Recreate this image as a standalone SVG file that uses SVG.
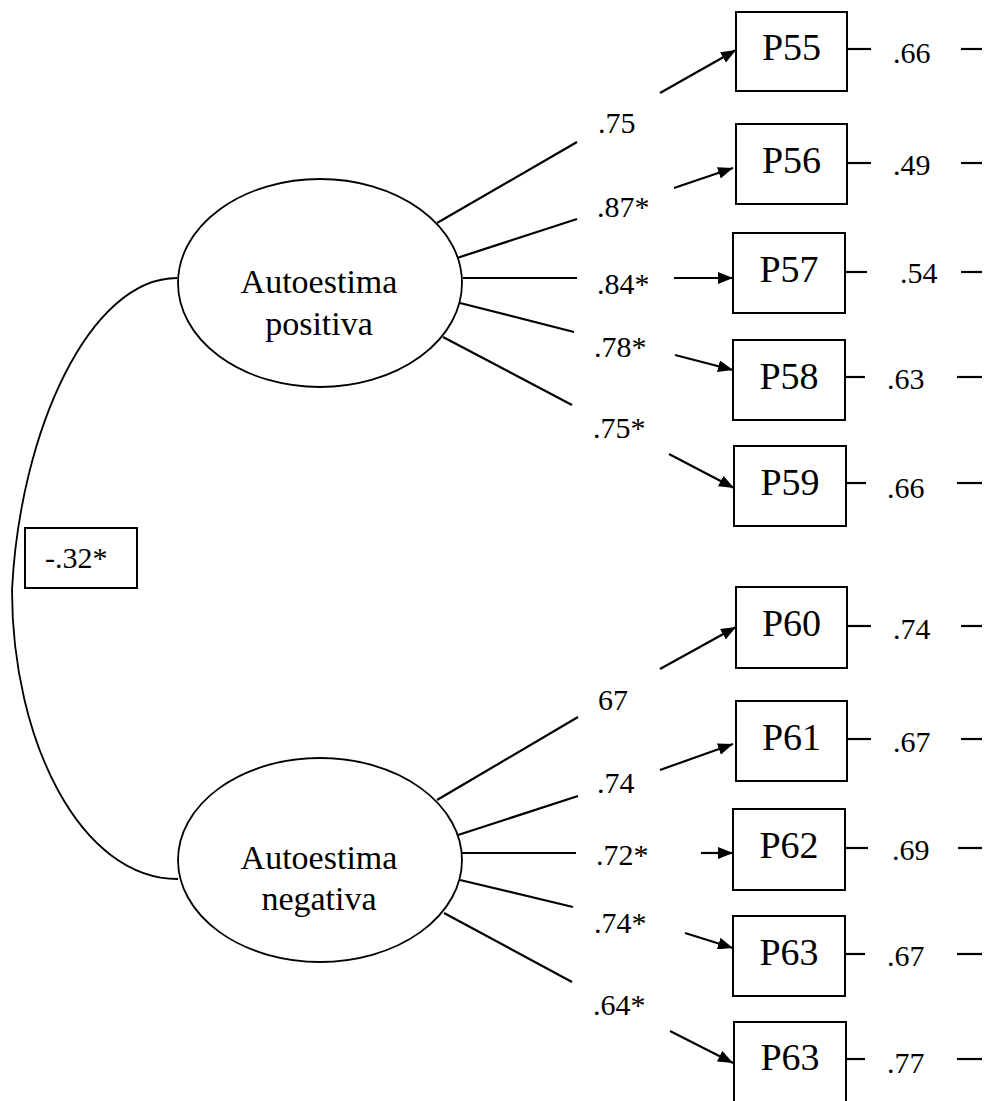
<svg xmlns="http://www.w3.org/2000/svg" width="987" height="1101" viewBox="0 0 987 1101">
<style>
text{font-family:"Liberation Serif","Times New Roman",serif;fill:#000}
.box{fill:#fff;stroke:#000;stroke-width:2}
.ell{fill:#fff;stroke:#000;stroke-width:1.8}
.pl{font-size:38px;text-anchor:middle}
.lat{font-size:34px;text-anchor:middle}
.num{font-size:30px}
.ln{stroke:#000;stroke-width:2.2;fill:none}
.cv{stroke:#000;stroke-width:1.8;fill:none}
.ar{stroke:#000;stroke-width:2.2;fill:none;marker-end:url(#ah)}
</style>
<defs>
<marker id="ah" markerUnits="userSpaceOnUse" markerWidth="16" markerHeight="12" refX="15" refY="6" orient="auto">
<path d="M0,0 L15,6 L0,12 z" fill="#000"/>
</marker>
</defs>
<g id="connectors">
<path class="cv" d="M177,278 C90,278 20,430 12,590 C12,740 80,879 178,879"/>
<line class="ln" x1="437" y1="223" x2="577" y2="142"/>
<line class="ar" x1="660" y1="93" x2="736" y2="50"/>
<line class="ln" x1="457" y1="258" x2="577" y2="219"/>
<line class="ar" x1="674" y1="188" x2="733" y2="168"/>
<line class="ln" x1="463" y1="278" x2="577" y2="278"/>
<line class="ar" x1="674" y1="278" x2="733" y2="278"/>
<line class="ln" x1="460" y1="303" x2="574" y2="332"/>
<line class="ar" x1="675" y1="355" x2="733" y2="370"/>
<line class="ln" x1="443" y1="337" x2="572" y2="405"/>
<line class="ar" x1="669" y1="454" x2="734" y2="488"/>
<line class="ln" x1="437" y1="800" x2="578" y2="717"/>
<line class="ar" x1="660" y1="669" x2="736" y2="627"/>
<line class="ln" x1="458" y1="835" x2="578" y2="796"/>
<line class="ar" x1="660" y1="770" x2="733" y2="744"/>
<line class="ln" x1="462" y1="853" x2="576" y2="853"/>
<line class="ar" x1="701" y1="853" x2="733" y2="853"/>
<line class="ln" x1="460" y1="880" x2="573" y2="907"/>
<line class="ar" x1="685" y1="933" x2="733" y2="948"/>
<line class="ln" x1="444" y1="913" x2="572" y2="982"/>
<line class="ar" x1="670" y1="1031" x2="733" y2="1063"/>
<g class="ln">
<line x1="848" y1="49" x2="871" y2="49"/><line x1="961" y1="49" x2="982" y2="49"/>
<line x1="848" y1="163" x2="871" y2="163"/><line x1="961" y1="163" x2="982" y2="163"/>
<line x1="846" y1="272" x2="867" y2="272"/><line x1="961" y1="272" x2="982" y2="272"/>
<line x1="846" y1="377" x2="865" y2="377"/><line x1="957" y1="377" x2="982" y2="377"/>
<line x1="847" y1="483" x2="866" y2="483"/><line x1="957" y1="483" x2="982" y2="483"/>
<line x1="848" y1="626" x2="871" y2="626"/><line x1="961" y1="626" x2="982" y2="626"/>
<line x1="848" y1="739" x2="871" y2="739"/><line x1="961" y1="739" x2="982" y2="739"/>
<line x1="846" y1="848" x2="868" y2="848"/><line x1="958" y1="848" x2="982" y2="848"/>
<line x1="846" y1="954" x2="865" y2="954"/><line x1="957" y1="954" x2="982" y2="954"/>
<line x1="847" y1="1059" x2="865" y2="1059"/><line x1="957" y1="1059" x2="982" y2="1059"/>
</g>
</g>
<g id="labels" class="num">
<text x="598" y="133">.75</text>
<text x="597" y="217">.87*</text>
<text x="597" y="294">.84*</text>
<text x="594" y="357">.78*</text>
<text x="593" y="438">.75*</text>
<text x="598" y="710">67</text>
<text x="597" y="793">.74</text>
<text x="596" y="865">.72*</text>
<text x="594" y="933">.74*</text>
<text x="593" y="1015">.64*</text>
<text x="893" y="63">.66</text>
<text x="893" y="175">.49</text>
<text x="900" y="283">.54</text>
<text x="887" y="389">.63</text>
<text x="887" y="498">.66</text>
<text x="893" y="639">.74</text>
<text x="893" y="752">.67</text>
<text x="892" y="860">.69</text>
<text x="887" y="966">.67</text>
<text x="887" y="1073">.77</text>
</g>
<g id="corr">
<rect class="box" x="25" y="528" width="112" height="60"/>
<text class="num" x="45" y="568">-.32*</text>
</g>
<g id="autoestima-positiva">
<ellipse class="ell" cx="320" cy="283" rx="142" ry="104"/>
<text class="lat" x="319" y="293">Autoestima</text>
<text class="lat" x="319" y="335">positiva</text>
</g>
<g id="autoestima-negativa">
<ellipse class="ell" cx="320" cy="860" rx="142" ry="102"/>
<text class="lat" x="319" y="869">Autoestima</text>
<text class="lat" x="319" y="910">negativa</text>
</g>
<g id="P55"><rect class="box" x="736" y="12" width="111" height="79"/><text class="pl" x="791.5" y="60">P55</text></g>
<g id="P56"><rect class="box" x="736" y="124" width="111" height="80"/><text class="pl" x="791.5" y="173">P56</text></g>
<g id="P57"><rect class="box" x="733" y="233" width="112" height="80"/><text class="pl" x="789" y="282">P57</text></g>
<g id="P58"><rect class="box" x="733" y="340" width="112" height="80"/><text class="pl" x="789" y="389">P58</text></g>
<g id="P59"><rect class="box" x="734" y="446" width="112" height="80"/><text class="pl" x="790" y="495">P59</text></g>
<g id="P60"><rect class="box" x="736" y="587" width="111" height="81"/><text class="pl" x="791.5" y="636">P60</text></g>
<g id="P61"><rect class="box" x="736" y="701" width="111" height="80"/><text class="pl" x="791.5" y="750">P61</text></g>
<g id="P62"><rect class="box" x="733" y="809" width="112" height="81"/><text class="pl" x="789" y="858">P62</text></g>
<g id="P63"><rect class="box" x="733" y="916" width="112" height="80"/><text class="pl" x="789" y="965">P63</text></g>
<g id="P63b"><rect class="box" x="734" y="1022" width="112" height="80"/><text class="pl" x="790" y="1070">P63</text></g>
</svg>
